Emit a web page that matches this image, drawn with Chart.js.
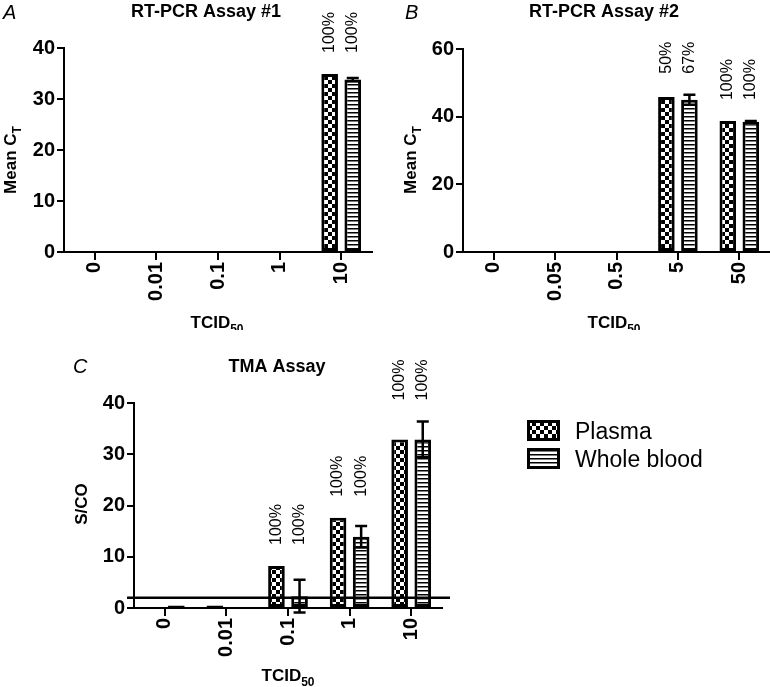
<!DOCTYPE html>
<html>
<head>
<meta charset="utf-8">
<script src="https://cdn.jsdelivr.net/npm/chart.js@4.4.1/dist/chart.umd.min.js"></script>
<style>
body { margin: 0; background: #fff; }
#wrap { position: relative; width: 770px; height: 687px; overflow: hidden; }
canvas { position: absolute; }
</style>
</head>
<body>
<div id="wrap">
  <canvas id="chartA" width="385" height="330" style="left:0;top:0"></canvas>
  <canvas id="chartB" width="385" height="330" style="left:385px;top:0"></canvas>
  <canvas id="chartC" width="770" height="357" style="left:0;top:330px"></canvas>
</div>
<script>
// panel A - RT-PCR assay #1
var catsA = ['0', '0.01', '0.1', '1', '10'];
var plasmaA = [null, null, null, null, 34.9];
var bloodA = [null, null, null, null, 33.8];
var plasmaErrA = [0, 0, 0, 0, 0];
var bloodErrA = [0, 0, 0, 0, 0.3];
var plasmaPctA = ['', '', '', '', '100%'];
var bloodPctA = ['', '', '', '', '100%'];

// panel B - RT-PCR assay #2
var catsB = ['0', '0.05', '0.5', '5', '50'];
var plasmaB = [null, null, null, 45.8, 38.7];
var bloodB = [null, null, null, 45.0, 38.5];
var plasmaErrB = [0, 0, 0, 0, 0];
var bloodErrB = [0, 0, 0, 1.5, 0.2];
var plasmaPctB = ['', '', '', '50%', '100%'];
var bloodPctB = ['', '', '', '67%', '100%'];

// panel C - TMA assay
var catsC = ['0', '0.01', '0.1', '1', '10'];
var plasmaC = [null, 0.1, 8.2, 17.6, 32.9];
var bloodC = [0.1, null, 2.3, 13.9, 32.9];
var plasmaErrC = [0, 0, 0, 0, 0];
var bloodErrC = [0, 0, 3.2, 2.1, 3.5];
var plasmaPctC = ['', '', '100%', '100%', '100%'];
var bloodPctC = ['', '', '100%', '100%', '100%'];
var cutoffC = 2;

var FONT = '"Liberation Sans", Arial, Helvetica, sans-serif';

function makePattern(w, h, paint) {
    var c = document.createElement('canvas');
    c.width = w; c.height = h;
    var g = c.getContext('2d');
    g.fillStyle = '#fff';
    g.fillRect(0, 0, w, h);
    g.fillStyle = '#000';
    paint(g);
    return g.createPattern(c, 'repeat');
}
var checker = makePattern(8, 8, function (g) { g.fillRect(0, 0, 4, 4); g.fillRect(4, 4, 4, 4); });
var stripes = makePattern(4, 4, function (g) { g.fillRect(0, 0, 4, 1.5); });

// text with a subscript part, centred on x, baseline y
function subText(ctx, main, sub, x, y, size) {
    var small = Math.round(size * 0.68);
    ctx.font = 'bold ' + size + 'px ' + FONT;
    var w1 = ctx.measureText(main).width;
    ctx.font = 'bold ' + small + 'px ' + FONT;
    var w2 = sub ? ctx.measureText(sub).width : 0;
    var x0 = x - (w1 + w2) / 2;
    ctx.textAlign = 'left';
    ctx.textBaseline = 'alphabetic';
    ctx.font = 'bold ' + size + 'px ' + FONT;
    ctx.fillText(main, x0, y);
    if (sub) {
        ctx.font = 'bold ' + small + 'px ' + FONT;
        ctx.fillText(sub, x0 + w1, y + size * 0.28);
    }
}

var decoPlugin = {
    id: 'deco',
    afterDraw: function (chart, args, o) {
        var ctx = chart.ctx;
        ctx.save();
        ctx.fillStyle = '#000';
        ctx.font = 'italic 20px ' + FONT;
        ctx.textAlign = 'left';
        ctx.fillText(o.letter, o.letterX, o.letterY);
        ctx.font = 'bold 18px ' + FONT;
        ctx.textAlign = 'center';
        ctx.fillText(o.title, o.titleX, o.titleY);
        subText(ctx, o.xTitle[0], o.xTitle[1], o.xTitleX, o.xTitleY, 17);
        ctx.translate(o.yTitleX, o.yTitleY);
        ctx.rotate(-Math.PI / 2);
        subText(ctx, o.yTitle[0], o.yTitle[1], 0, 6, 17);
        ctx.restore();
    }
};

var errPlugin = {
    id: 'errbars',
    afterDatasetsDraw: function (chart) {
        var ctx = chart.ctx, ys = chart.scales.y;
        ctx.save();
        ctx.strokeStyle = '#000';
        ctx.lineWidth = 2.5;
        chart.data.datasets.forEach(function (ds, i) {
            chart.getDatasetMeta(i).data.forEach(function (bar, j) {
                var v = ds.data[j], e = ds.errors[j];
                if (v == null || !e) return;
                var top = ys.getPixelForValue(v + e), bot = ys.getPixelForValue(v - e);
                ctx.beginPath();
                ctx.moveTo(bar.x, top); ctx.lineTo(bar.x, bot);
                ctx.moveTo(bar.x - 6, top); ctx.lineTo(bar.x + 6, top);
                ctx.moveTo(bar.x - 6, bot); ctx.lineTo(bar.x + 6, bot);
                ctx.stroke();
            });
        });
        ctx.restore();
    }
};

var pctPlugin = {
    id: 'pct',
    afterDatasetsDraw: function (chart) {
        var ctx = chart.ctx, ys = chart.scales.y;
        var sets = chart.data.datasets;
        ctx.save();
        ctx.fillStyle = '#000';
        ctx.font = '16px ' + FONT;
        ctx.textAlign = 'left';
        ctx.textBaseline = 'middle';
        chart.data.labels.forEach(function (lab, j) {
            var hi = 0;
            sets.forEach(function (ds) {
                if (ds.data[j] != null) hi = Math.max(hi, ds.data[j] + ds.errors[j]);
            });
            var y = ys.getPixelForValue(hi) - 21;
            sets.forEach(function (ds, i) {
                if (!ds.pct[j]) return;
                var bar = chart.getDatasetMeta(i).data[j];
                ctx.save();
                ctx.translate(bar.x, y);
                ctx.rotate(-Math.PI / 2);
                ctx.fillText(ds.pct[j], 0, 0);
                ctx.restore();
            });
        });
        ctx.restore();
    }
};

var cutoffPlugin = {
    id: 'cutoff',
    afterDatasetsDraw: function (chart, args, o) {
        if (o.value == null) return;
        var ctx = chart.ctx, a = chart.chartArea;
        var y = chart.scales.y.getPixelForValue(o.value);
        ctx.save();
        ctx.strokeStyle = '#000';
        ctx.lineWidth = 2.5;
        ctx.beginPath();
        ctx.moveTo(a.left - 7, y);
        ctx.lineTo(a.right + 8, y);
        ctx.stroke();
        ctx.restore();
    }
};

var legendPlugin = {
    id: 'boxLegend',
    afterDraw: function (chart, args, o) {
        if (!o.show) return;
        var ctx = chart.ctx;
        ctx.save();
        chart.data.datasets.forEach(function (ds, i) {
            var y = o.y + i * o.gap;
            ctx.fillStyle = ds.backgroundColor;
            ctx.fillRect(o.x, y, 33, 21);
            ctx.strokeStyle = '#000';
            ctx.lineWidth = 3;
            ctx.strokeRect(o.x + 1.5, y + 1.5, 30, 18);
            ctx.fillStyle = '#000';
            ctx.font = '23px ' + FONT;
            ctx.textAlign = 'left';
            ctx.textBaseline = 'alphabetic';
            ctx.fillText(ds.label, o.x + 48, y + 19);
        });
        ctx.restore();
    }
};

function dataset(label, fill, values, errs, pct) {
    return {
        label: label,
        data: values,
        errors: errs,
        pct: pct,
        backgroundColor: fill,
        borderColor: '#000',
        borderWidth: 3,
        borderSkipped: false,
        minBarLength: 2.5,
        categoryPercentage: 0.75,
        barPercentage: 0.72
    };
}

function barChart(id, cats, sets, yMax, step, geom, deco, cutoff, legend) {
    var tickFont = { family: FONT, size: 20, weight: 'bold' };
    return new Chart(document.getElementById(id), {
        type: 'bar',
        data: { labels: cats, datasets: sets },
        options: {
            responsive: false,
            animation: false,
            devicePixelRatio: 1,
            layout: { padding: { left: 0, top: geom.top, right: geom.right, bottom: 0 } },
            scales: {
                x: {
                    grid: { offset: false, drawOnChartArea: false, tickLength: 8, color: '#000', lineWidth: 2 },
                    border: { display: true, color: '#000', width: 2 },
                    ticks: { color: '#000', font: tickFont, minRotation: 90, maxRotation: 90, autoSkip: false, padding: 2 },
                    afterFit: function (s) { s.height = geom.xh; }
                },
                y: {
                    min: 0,
                    max: yMax,
                    grid: { drawOnChartArea: false, tickLength: 7, color: '#000', lineWidth: 2 },
                    border: { display: true, color: '#000', width: 2 },
                    ticks: { stepSize: step, color: '#000', font: tickFont, padding: 2 },
                    afterFit: function (s) { s.width = geom.yw; }
                }
            },
            plugins: {
                legend: { display: false },
                tooltip: { enabled: false },
                deco: deco,
                cutoff: { value: cutoff },
                boxLegend: legend || { show: false }
            }
        },
        plugins: [decoPlugin, errPlugin, pctPlugin, cutoffPlugin, legendPlugin]
    });
}

barChart('chartA', catsA, [
    dataset('Plasma', checker, plasmaA, plasmaErrA, plasmaPctA),
    dataset('Whole blood', stripes, bloodA, bloodErrA, bloodPctA)
], 40, 10, { top: 48, right: 13, xh: 78, yw: 64 }, {
    letter: 'A', letterX: 3, letterY: 19,
    title: 'RT-PCR Assay #1', titleX: 206, titleY: 17,
    xTitle: ['TCID', '50'], xTitleX: 217, xTitleY: 328,
    yTitle: ['Mean C', 'T'], yTitleX: 10, yTitleY: 160
}, null);

barChart('chartB', catsB, [
    dataset('Plasma', checker, plasmaB, plasmaErrB, plasmaPctB),
    dataset('Whole blood', stripes, bloodB, bloodErrB, bloodPctB)
], 60, 20, { top: 49, right: 0, xh: 78, yw: 78 }, {
    letter: 'B', letterX: 20, letterY: 19,
    title: 'RT-PCR Assay #2', titleX: 219, titleY: 17,
    xTitle: ['TCID', '50'], xTitleX: 229, xTitleY: 328,
    yTitle: ['Mean C', 'T'], yTitleX: 25, yTitleY: 160
}, null);

barChart('chartC', catsC, [
    dataset('Plasma', checker, plasmaC, plasmaErrC, plasmaPctC),
    dataset('Whole blood', stripes, bloodC, bloodErrC, bloodPctC)
], 40, 10, { top: 73, right: 328, xh: 79, yw: 134 }, {
    letter: 'C', letterX: 73, letterY: 43,
    title: 'TMA Assay', titleX: 277, titleY: 42,
    xTitle: ['TCID', '50'], xTitleX: 288, xTitleY: 351,
    yTitle: ['S/CO', ''], yTitleX: 81, yTitleY: 174
}, cutoffC, { show: true, x: 527, y: 90, gap: 28 });
</script>
</body>
</html>
